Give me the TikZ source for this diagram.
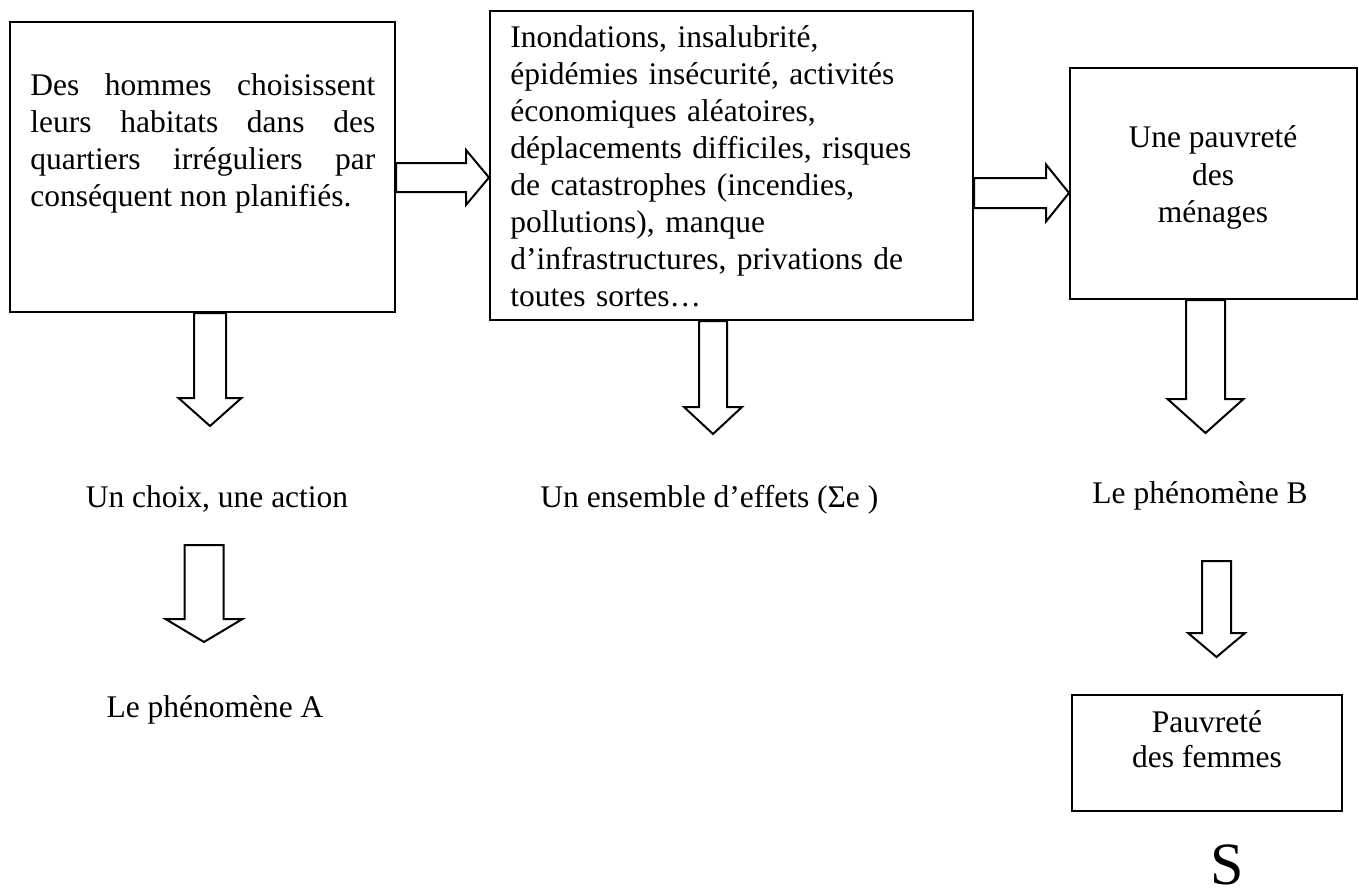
\documentclass[tikz,border=0pt]{standalone}
\usepackage{fontspec}
\setmainfont{Liberation Serif}
\usetikzlibrary{calc, positioning}

\tikzset{
  box/.style={draw, line width=1pt, inner sep=0pt},
  fatarrow/.style={line width=1pt, line join=miter},
  lbl/.style={inner sep=0pt, anchor=base},
}

% wide hollow arrows: from, tip, half shaft, half head, head length
\newcommand{\fatright}[5]{%
  \draw[fatarrow] ($(#1)+(0,-#3)$) -- ($(#2)+(-#5,-#3)$) -- ($(#2)+(-#5,-#4)$) -- (#2)
    -- ($(#2)+(-#5,#4)$) -- ($(#2)+(-#5,#3)$) -- ($(#1)+(0,#3)$) -- cycle;}
\newcommand{\fatdown}[5]{%
  \draw[fatarrow] ($(#1)+(-#3,0)$) -- ($(#2)+(-#3,-#5)$) -- ($(#2)+(-#4,-#5)$) -- (#2)
    -- ($(#2)+(#4,-#5)$) -- ($(#2)+(#3,-#5)$) -- ($(#1)+(#3,0)$) -- cycle;}

\begin{document}
\begin{tikzpicture}[x=0.5pt, y=-0.5pt, font=\fontsize{15.75}{18.5}\selectfont]
  \useasboundingbox (0,0) rectangle (1359,894);

  % boxes
  \node[box, minimum width=192.5pt, minimum height=145pt] (box1) at (202.5,167) {};
  \node[box, minimum width=241.5pt, minimum height=154.5pt] (box2) at (731.5,165.5) {};
  \node[box, minimum width=143.5pt, minimum height=115.5pt] (box3) at (1213.5,183.5) {};
  \node[box, minimum width=135pt, minimum height=58pt] (box4) at (1207,753) {};

  % box texts
  \node[inner sep=0pt, anchor=base west, text width=172.5pt, align=justify] (txt1) at (30,95)
    {Des hommes choisissent\linebreak leurs habitats dans des\linebreak quartiers irréguliers par\linebreak conséquent non planifiés.};
  \node[inner sep=0pt, anchor=base west, text width=225pt, align=left] (txt2) at (510,47)
    {Inondations, insalubrité,\\ épidémies insécurité, activités\\ économiques aléatoires,\\
     déplacements difficiles, risques\\ de catastrophes (incendies,\\ pollutions), manque\\
     d’infrastructures, privations de\\ toutes sortes…};
  \node[lbl] (txt3a) at (1213,147) {Une pauvreté};
  \node[lbl] (txt3b) at (1213,185) {des};
  \node[lbl] (txt3c) at (1213,222) {ménages};
  \node[lbl] (txt4a) at (1207,732) {Pauvreté};
  \node[lbl] (txt4b) at (1207,767) {des femmes};

  % labels under the boxes
  \node[lbl] (choix) at (217,507) {Un choix, une action};
  \node[lbl, anchor=base west] (effets) at (540,507) {Un ensemble d’effets (Σe )};
  \node[lbl] (phenB) at (1200,503) {Le phénomène B};
  \node[lbl] (phenA) at (215,717) {Le phénomène A};
  \node[lbl, font=\fontsize{30}{30}\selectfont] (S) at (1227,884) {S};

  % arrow ends
  \coordinate (h1s) at (box1.east |- 0,177.5);
  \coordinate (h1e) at (box2.west |- 0,177.5);
  \coordinate (h2s) at (box2.east |- 0,193);
  \coordinate (h2e) at (box3.west |- 0,193);
  \coordinate (d1s) at (210,0 |- box1.south);
  \coordinate (d1e) at (210,426);
  \coordinate (d2s) at (713,0 |- box2.south);
  \coordinate (d2e) at (713,434);
  \coordinate (d3s) at (1205.5,0 |- box3.south);
  \coordinate (d3e) at (1205.5,433);
  \coordinate (d4s) at (204,545);
  \coordinate (d4e) at (204,642);
  \coordinate (d5s) at (1216.5,561);
  \coordinate (d5e) at (1216.5,657);

  % arrows
  \fatright{h1s}{h1e}{14.5}{27.5}{23}
  \fatright{h2s}{h2e}{15}{28.5}{23}
  \fatdown{d1s}{d1e}{16}{31.5}{28}
  \fatdown{d2s}{d2e}{14}{29}{27}
  \fatdown{d3s}{d3e}{19.5}{38}{34}
  \fatdown{d4s}{d4e}{19.5}{38.5}{23}
  \fatdown{d5s}{d5e}{14.5}{28.5}{24}
\end{tikzpicture}
\end{document}
